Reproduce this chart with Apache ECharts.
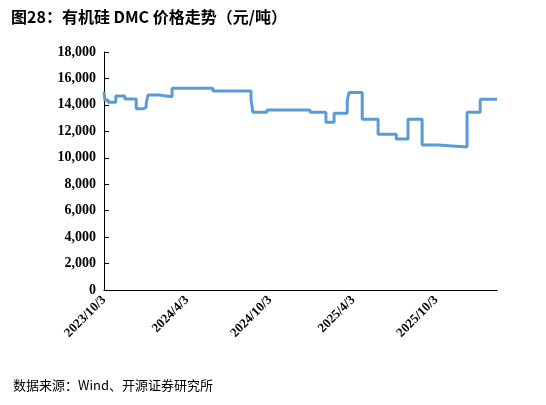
<!DOCTYPE html>
<html><head><meta charset="utf-8">
<script src="https://cdn.jsdelivr.net/npm/echarts@6/dist/echarts.min.js"></script>
<style>body{margin:0;background:#fff}#main{width:546px;height:405px}</style>
</head><body><div id="main"></div>
<script>
// 价格变动日期与对应价格（元/吨）
var dates = ['2023-10-03','2023-10-05','2023-10-12','2023-10-29','2023-11-18','2023-12-13','2023-12-28','2024-01-04','2024-01-08','2024-02-01','2024-03-01','2024-05-30','2024-08-22','2024-08-26','2024-09-26','2024-12-30','2025-02-03','2025-02-21','2025-03-22','2025-03-26','2025-04-24','2025-05-29','2025-07-08','2025-08-03','2025-09-03','2025-10-08','2025-12-11','2026-01-09','2026-02-15'];
var prices = [15000,14370,14200,14670,14450,13700,13820,14120,14750,14620,15250,15050,14420,13440,13620,13440,12680,13370,14320,14930,12910,11780,11420,12910,10970,10820,13440,14420,14420];
var tickDates = ['2023/10/3','2024/4/3','2024/10/3','2025/4/3','2025/10/3'];

var DAY = 86400000;
function ts(s){ var p=s.split('-'); return Date.UTC(+p[0],+p[1]-1,+p[2]); }
var t0 = ts(dates[0]);
function dayOf(s){ return Math.round((ts(s)-t0)/DAY); }
var seriesData = dates.map(function(d,i){ return [dayOf(d), prices[i]]; });
var chart = echarts.init(document.getElementById('main'));
chart.setOption({
  animation:false,
  title:[{text:'图28：有机硅 DMC 价格走势（元/吨）',left:6,top:4,textStyle:{fontSize:16,fontWeight:'bold',color:'#000',fontFamily:'Noto Sans CJK SC'}},
         {text:'数据来源：Wind、开源证券研究所',left:8,bottom:8,textStyle:{fontSize:13,fontWeight:'normal',color:'#000',fontFamily:'Noto Sans CJK SC'}}],
  grid:{left:104,right:49,top:52,bottom:115},
  xAxis:{type:'value',min:0,max:dayOf('2026-02-15'),interval:183,
    axisLine:{lineStyle:{color:'#000'}},splitLine:{show:false},axisTick:{show:false},
    axisLabel:{rotate:45,color:'#000',fontWeight:'bold',fontSize:13,fontFamily:'Liberation Serif',showMaxLabel:false,
      formatter:function(v){var i=Math.round(v/183);return tickDates[i]||'';}}},
  yAxis:{type:'value',min:0,max:18000,interval:2000,
    axisLine:{show:true,lineStyle:{color:'#000'}},axisTick:{show:true,inside:true,lineStyle:{color:'#000'}},splitLine:{show:false},
    axisLabel:{color:'#000',fontWeight:'bold',fontSize:14,fontFamily:'Liberation Serif'}},
  series:[{type:'line',step:'end',data:seriesData,showSymbol:false,lineStyle:{color:'#5b9bd5',width:3}}]
});
</script></body></html>
